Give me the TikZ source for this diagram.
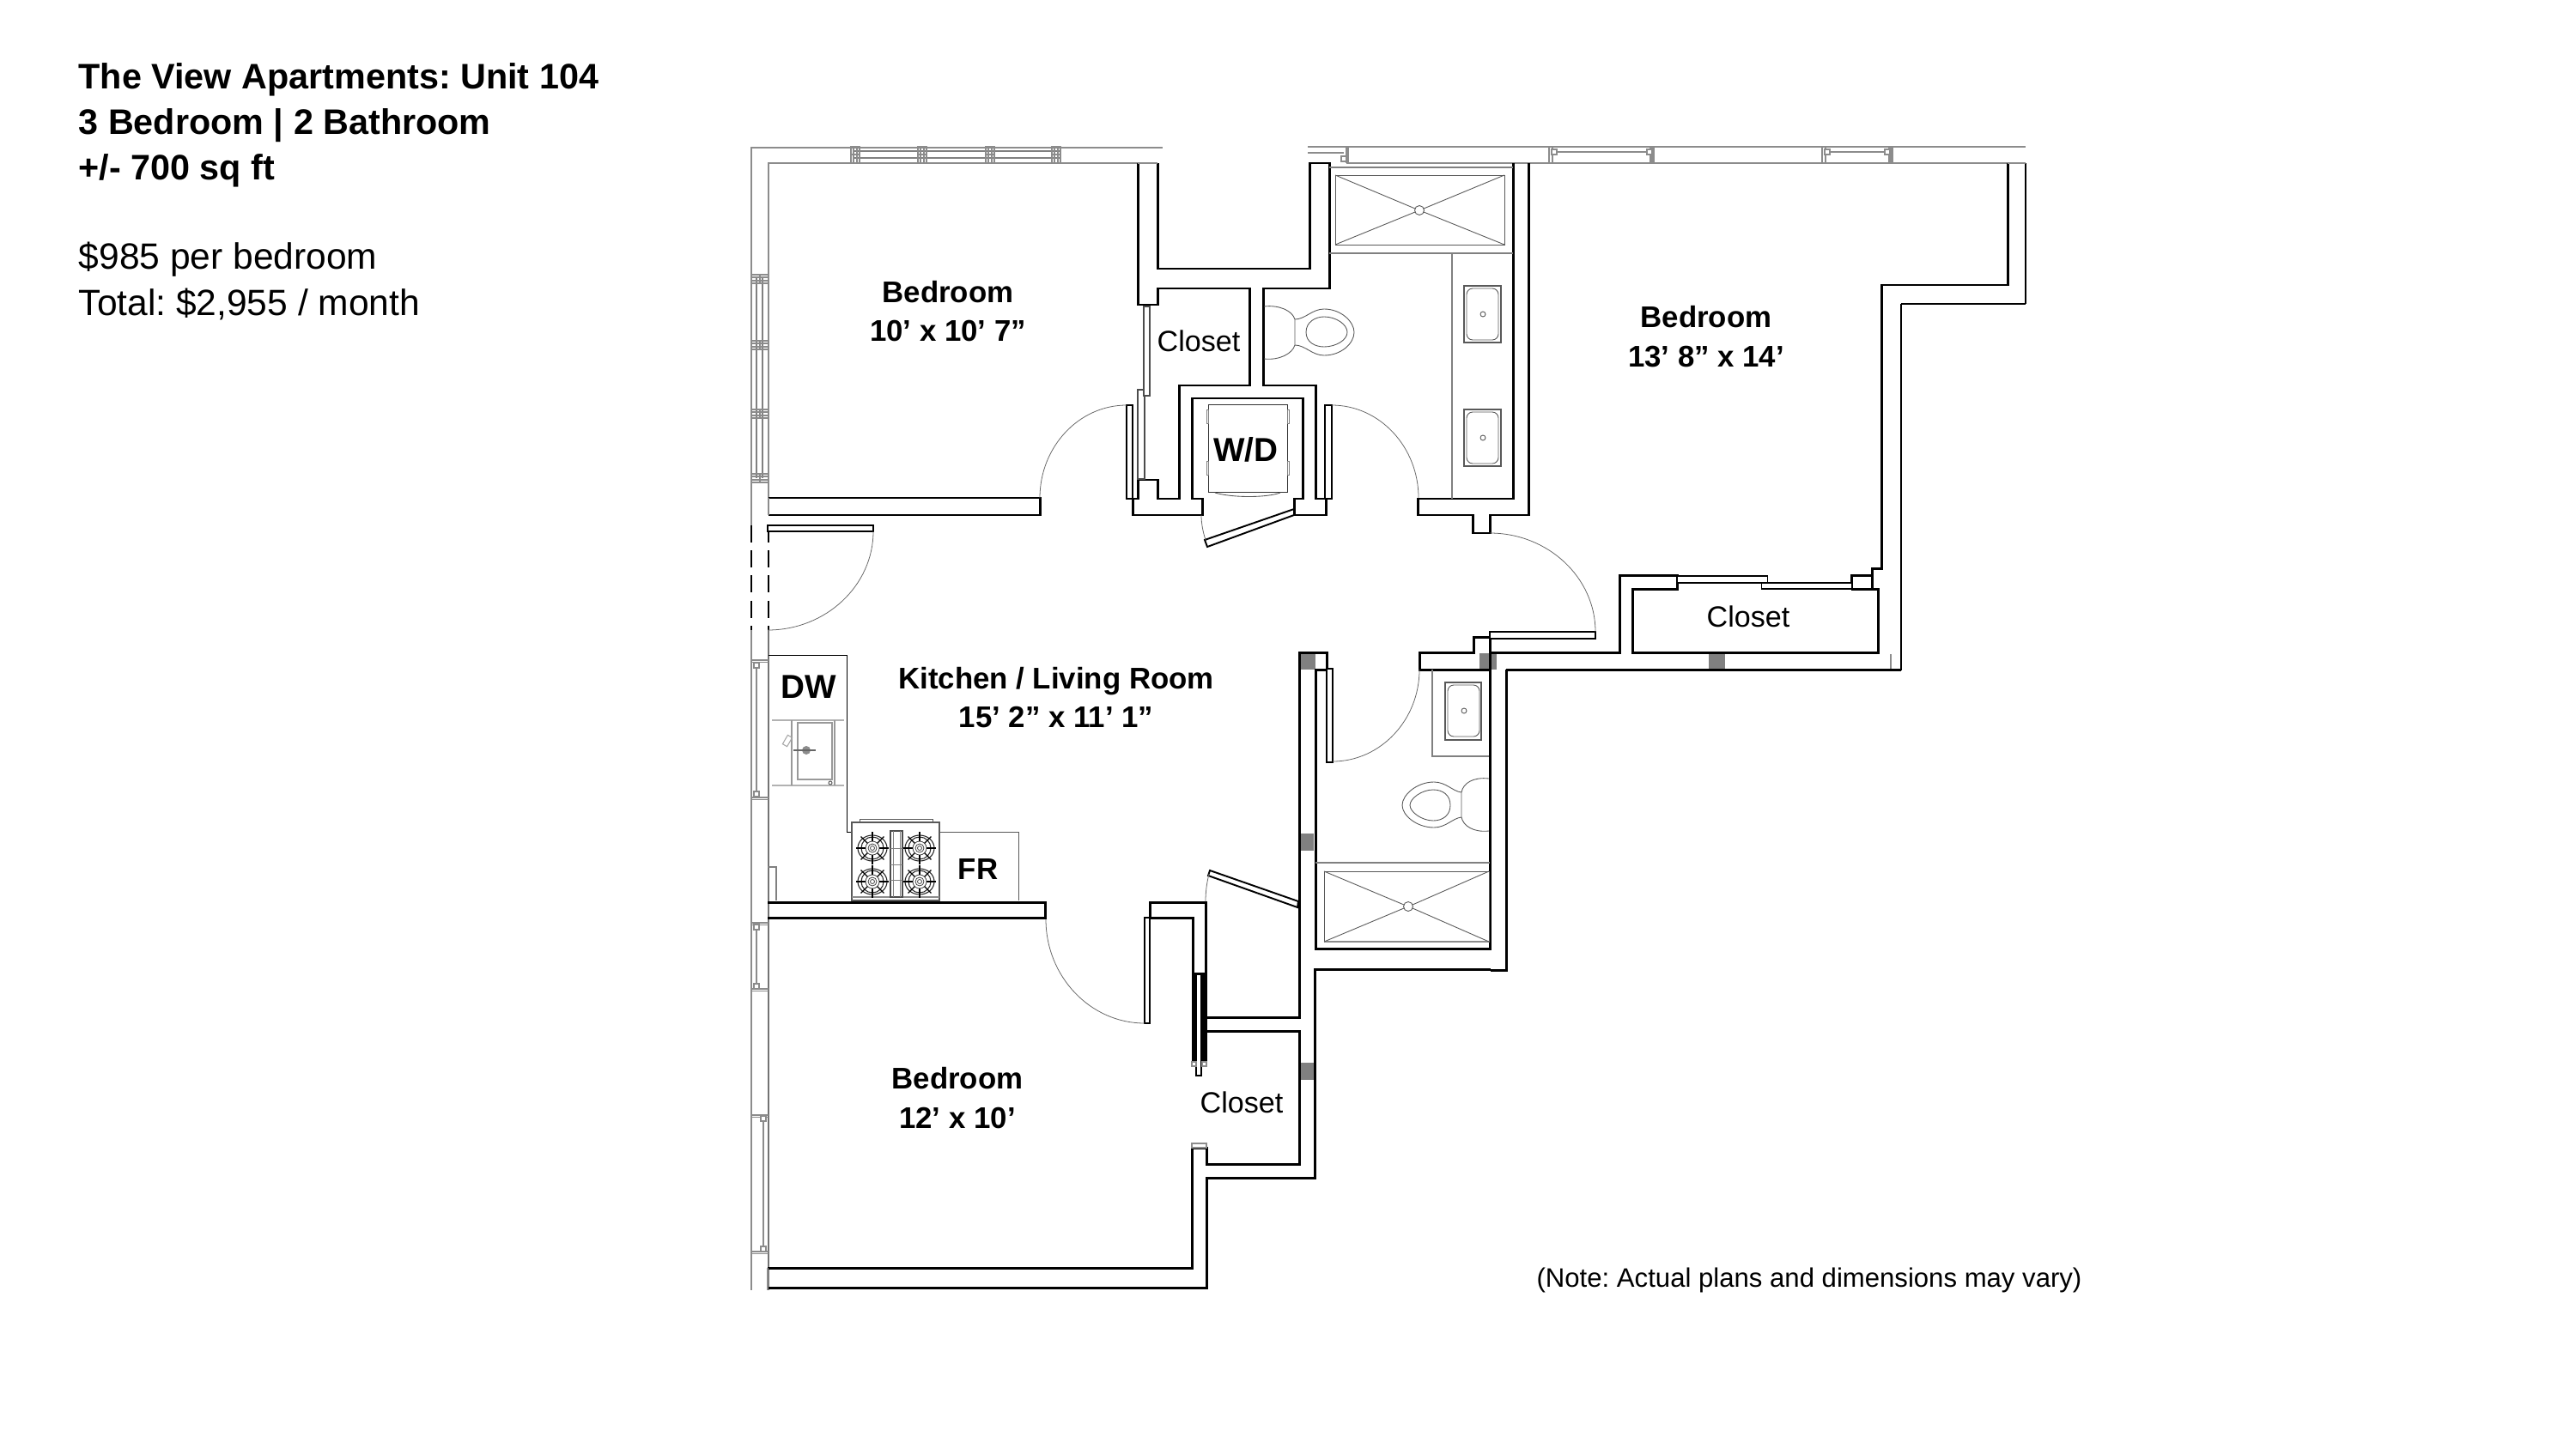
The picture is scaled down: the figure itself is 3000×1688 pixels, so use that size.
\documentclass[tikz,border=0pt]{standalone}
\usepackage{fontspec}
\setmainfont{Liberation Sans}
\usetikzlibrary{calc}
\frenchspacing
\tikzset{
  wall/.style={draw=black,line width=0.85pt,line join=miter},
  wallthin/.style={draw=black,line width=0.6pt},
  greyl/.style={draw=black!45,line width=0.45pt},
  greyt/.style={draw=black!50,line width=0.3pt},
  fixt/.style={draw=black!65,line width=0.25pt},
  leaf/.style={draw=black,line width=0.3pt,fill=white},
  leafb/.style={draw=black,line width=0.55pt,fill=white},
  swing/.style={draw=black!60,line width=0.22pt},
  stub/.style={fill=black!50,draw=none},
  head/.style={anchor=base west,inner sep=0pt,font=\fontsize{12.1}{14}\selectfont},
  headb/.style={head,font=\fontsize{11.75}{14}\selectfont\bfseries},
  room/.style={anchor=base,inner sep=0pt,font=\fontsize{9.9}{12}\selectfont\bfseries},
  appl/.style={anchor=base,inner sep=0pt,font=\fontsize{11}{12}\selectfont\bfseries},
  lab/.style={anchor=base,inner sep=0pt,font=\fontsize{9.7}{12}\selectfont},
}
\newcommand{\qarc}[6]{\draw[swing] (#1,#2) .. controls ($(#1,#2)!.55!(#5,#6)$) and ($(#3,#4)!.55!(#5,#6)$) .. (#3,#4);}
\begin{document}
\begin{tikzpicture}[x=0.01cm,y=-0.01cm]
\useasboundingbox (0,0) rectangle (3000,1688);
\fill[white] (0,0) rectangle (3000,1688);

% ---------- text block
\node[headb] (t1) at (91,104) {The View Apartments: Unit 104};
\node[headb] (t2) at (91,157) {3 Bedroom | 2 Bathroom};
\node[headb] (t3) at (91,209) {+/- 700 sq ft};
\node[head] (t4) at (91,314) {\$985 per bedroom};
\node[head] (t5) at (91,367) {Total: \$2,955 / month};

% ---------- exterior grey shell
\draw[greyl] (1354,172) -- (875,172) -- (875,612);
\draw[greyl] (895,322) -- (895,190) -- (1325,190);
\draw[greyl] (875,734) -- (875,1503);
\draw[greyt,draw=black!55] (895,734) -- (895,1503);
\draw[greyl] (1523,171) -- (2359,171);
\draw[greyl] (1568,190) -- (2338,190);
\draw[greyl] (1523,178) -- (1565,178);
% dashed entry
\draw[draw=black,line width=0.35pt,dash pattern=on 5.7pt off 2.6pt] (875,612) -- (875,734);
\draw[draw=black,line width=0.35pt,dash pattern=on 5.7pt off 2.6pt] (895,612) -- (895,734);
% top window, left
\draw[greyl,line width=0.8pt,draw=black!50] (994,176) -- (1234,176) (994,184) -- (1234,184);
\foreach \m in {996,1074,1153,1230}{
  \draw[greyl,line width=0.5pt] (\m-5,171) rectangle (\m+5,190);
  \draw[greyl] (\m-2,171) -- (\m-2,190) (\m+2,171) -- (\m+2,190) (\m-5,180) -- (\m+5,180);
}
% left window, upper
\draw[greyl,line width=0.8pt,draw=black!50] (881,322) -- (881,557) (888,322) -- (888,557);
\foreach \m in {325,402,482,557}{
  \draw[greyl,line width=0.5pt] (875,\m-5) rectangle (895,\m+5);
  \draw[greyl] (875,\m-2) -- (895,\m-2) (875,\m+2) -- (895,\m+2) (885,\m-5) -- (885,\m+5);
}
\draw[greyl] (895,322) -- (895,600);
% left windows, lower
\draw[greyl] (881,773) -- (881,926) (881,1078) -- (881,1149) (889,1303) -- (889,1455);
\foreach \m in {770,930,1076,1153,1300,1459}{
  \draw[greyl] (875,\m-1) -- (895,\m-1) (875,\m+1.5) -- (895,\m+1.5);
}
\foreach \a/\b in {881/775,881/925,881/1080,881/1149,889/1303,889/1455}{
  \draw[greyl,fill=white] (\a-3,\b-3) rectangle (\a+3,\b+3);
}
% top window, right
\foreach \a/\b in {1568/1806,1924/2124,2202/2359}{
  \draw[greyl] (\a,171) -- (\a,190) (\a+2,171) -- (\a+2,190);
}
\foreach \m in {1806,1924,2124,2202}{
  \draw[greyl] (\m-2,171) -- (\m-2,190) (\m+2,171) -- (\m+2,190);
}
\draw[greyl] (1808,177) -- (1922,177) (2126,177) -- (2200,177);
\foreach \a/\b in {1565/185,1810/177,1921/177,2128/177,2198/177}{
  \draw[greyl,fill=white] (\a-3,\b-3) rectangle (\a+3,\b+3);
}

% ---------- grey wall stubs
\fill[stub] (1514,762) rectangle (1532,780);
\fill[stub] (1514,971) rectangle (1530,991);
\fill[stub] (1514,1238) rectangle (1530,1258);
\fill[stub] (1723,761) rectangle (1743,780);
\fill[stub] (1990,762) rectangle (2009,779);

% ---------- core walls: bedroom 1 / closet / laundry
\draw[wall] (1325,190) -- (1325,355) -- (1348,355) -- (1348,336) -- (1455,336) -- (1455,449) -- (1373,449) -- (1373,581) -- (1348,581) -- (1348,559) -- (1325,559) -- (1325,581) -- (1319,581) -- (1319,600) -- (1400,600) -- (1400,581) -- (1388,581) -- (1388,464) -- (1517,464) -- (1517,581) -- (1507,581) -- (1507,600) -- (1544,600) -- (1544,581) -- (1532,581) -- (1532,449) -- (1471,449) -- (1471,336) -- (1548,336) -- (1548,190) -- (1525,190) -- (1525,313) -- (1348,313) -- (1348,190);
\draw[greyl] (1325,190) -- (1348,190);
% bedroom 1 south wall
\draw[wall] (895,580) -- (1211,580) -- (1211,600) -- (895,600);
\draw[greyl] (895,580) -- (895,600);
% bath 1 east wall
\draw[wall] (1762,190) -- (1762,581) -- (1651,581) -- (1651,600) -- (1715,600) -- (1715,621) -- (1735,621) -- (1735,600) -- (1780,600) -- (1780,190);
% bedroom 2 walls and closet
\draw[wall] (2338,190) -- (2338,332) -- (2191,332) -- (2191,662) -- (2180,662) -- (2180,686);
\draw[wall] (2156,686) -- (2156,670) -- (2180,670);
\draw[wall] (2156,686) -- (2187,686) -- (2187,760) -- (1901,760) -- (1901,686) -- (1953,686) -- (1953,670) -- (1886,670) -- (1886,760) -- (1735,760) -- (1735,742) -- (1716,742) -- (1716,760) -- (1653,760) -- (1653,780) -- (1735,780);
\draw[wall] (1735,760) -- (1735,1105) -- (1532,1105) -- (1532,780) -- (1545,780) -- (1545,760) -- (1513,760) -- (1513,1185) -- (1404,1185) -- (1404,1051) -- (1339,1051) -- (1339,1069) -- (1389,1069) -- (1389,1237);
\draw[wall] (1404,1185) -- (1404,1237);
\draw[wall] (1754,780) -- (2214,780);
\draw[wallthin] (2214,354) -- (2214,781);
\draw[wall] (2214,354) -- (2359,354);
\draw[wallthin,line width=0.35pt] (2359,190) -- (2359,354);
\draw[greyl] (2338,190) -- (2359,190);
\draw[greyl] (2202,762) -- (2202,779);
\draw[wall] (1754,780) -- (1754,1130) -- (1736,1130);
\draw[wall] (1736,1129) -- (1531,1129) -- (1531,1372) -- (1405,1372) -- (1405,1500) -- (894,1500);
\draw[wall] (1404,1201) -- (1513,1201) -- (1513,1356) -- (1405,1356) -- (1405,1337) -- (1388,1337) -- (1388,1477) -- (894,1477);
\draw[greyl] (1388,1332) rectangle (1405,1337);
\draw[greyl] (894,1477) -- (894,1503);
% kitchen south wall
\draw[wall] (894,1051) -- (1217,1051) -- (1217,1069) -- (894,1069);
% thick sliding jamb, bedroom 3 closet
\fill[black] (1388,1133) rectangle (1405,1237);
\draw[leaf,line width=0.35pt] (1393,1135) rectangle (1399,1253);
\draw[greyl,fill=white] (1388,1237) rectangle (1393,1242) (1400,1237) rectangle (1405,1242);

% ---------- door leaves and swings
\draw[leaf] (1312,472) rectangle (1319,581);
\draw[leaf] (1543,472) rectangle (1551,581);
\draw[leaf] (894,612) rectangle (1017,619);
\draw[leaf,line width=0.5pt] (1735,736) rectangle (1858,744);
\draw[leaf] (1545,779) rectangle (1552,888);
\draw[leaf] (1333,1069) rectangle (1339,1192);
\draw[leaf,draw=black!70] (1325,454) rectangle (1333,558);
\draw[leaf,draw=black!70] (1332,357) rectangle (1339,461);
\draw[leaf] (1953,671) rectangle (2058,679);
\draw[leaf] (2051,679) rectangle (2156,686);
\draw[leafb] (1507,593) -- (1507,600) -- (1406,637) -- (1403,629) -- cycle;
\draw[leafb] (1409,1014) -- (1407,1020) -- (1511,1057) -- (1512,1050) -- cycle;
\qarc{1312}{472}{1211}{580}{1211}{472}
\qarc{1551}{472}{1652}{580}{1652}{472}
\qarc{1735}{621}{1858}{736}{1858}{621}
\qarc{1017}{619}{894}{734}{1017}{734}
\qarc{1552}{887}{1653}{780}{1653}{887}
\qarc{1218}{1071}{1333}{1192}{1218}{1192}
\draw[swing] (1399,600) .. controls (1399,610) and (1401,620) .. (1404,629);
\draw[swing] (1404,1050) .. controls (1404,1040) and (1405,1030) .. (1408,1018);

% ---------- bath 1 fixtures
\draw[greyt] (1548,195) -- (1762,195);
\draw[greyt] (1548,295) -- (1762,295);
\draw[greyt] (1691,295) -- (1691,581);
\draw[fixt] (1555,204) rectangle (1752,285);
\draw[fixt] (1555,204) -- (1648,243) (1752,204) -- (1658,243) (1555,285) -- (1648,247) (1752,285) -- (1658,247);
\draw[fixt] (1653,245) circle [radius=5.5];
\foreach \y in {333,477}{
  \draw[fixt,line width=0.35pt] (1705,\y) rectangle (1748,\y+66);
  \draw[fixt,rounded corners=2pt] (1708,\y+3) rectangle (1745,\y+63);
  \draw[fixt] (1727,\y+33) circle [radius=3];
}
% toilet 1
\draw[fixt] (1472,357) .. controls (1490,355) and (1505,362) .. (1508,372) -- (1508,402) .. controls (1505,412) and (1490,420) .. (1472,418);
\draw[fixt] (1508,372) .. controls (1520,372) and (1528,360) .. (1542,360) .. controls (1562,360) and (1577,375) .. (1577,387) .. controls (1577,400) and (1562,414) .. (1542,414) .. controls (1528,414) and (1520,402) .. (1508,402);
\draw[fixt] (1521,387) .. controls (1521,375) and (1532,369) .. (1542,369) .. controls (1556,369) and (1569,378) .. (1569,387) .. controls (1569,396) and (1556,404) .. (1542,404) .. controls (1532,404) and (1521,399) .. (1521,387);

% ---------- bath 2 fixtures
\draw[greyt] (1668,780) -- (1668,881) -- (1734,881);
\draw[fixt,line width=0.35pt] (1683,795) rectangle (1725,862);
\draw[fixt,rounded corners=2pt] (1686,798) rectangle (1723,858);
\draw[fixt] (1705,828) circle [radius=3];
\draw[fixt] (1734,907) .. controls (1716,905) and (1704,912) .. (1702,923) -- (1702,952) .. controls (1704,962) and (1716,970) .. (1734,968);
\draw[fixt] (1702,923) .. controls (1692,922) and (1684,911) .. (1670,911) .. controls (1650,911) and (1633,926) .. (1633,938) .. controls (1633,950) and (1650,964) .. (1670,964) .. controls (1684,964) and (1692,953) .. (1702,952);
\draw[fixt] (1689,938) .. controls (1689,926) and (1680,920) .. (1669,920) .. controls (1656,920) and (1642,930) .. (1642,938) .. controls (1642,946) and (1656,956) .. (1669,956) .. controls (1680,956) and (1689,950) .. (1689,938);
\draw[greyt] (1532,1005) -- (1735,1005);
\draw[fixt] (1542,1015) rectangle (1734,1097);
\draw[greyl] (1542,1097) -- (1734,1097);
\draw[fixt] (1542,1015) -- (1635,1054) (1734,1015) -- (1645,1054) (1542,1097) -- (1635,1058) (1734,1097) -- (1645,1058);
\draw[fixt] (1640,1056) circle [radius=5.5];

% ---------- laundry
\draw[fixt,draw=black!80] (1407,471) rectangle (1499,573);
\foreach \x/\y in {1405/485,1405/545,1499/485,1499/545}{\draw[greyt,line width=0.2pt] (\x,\y-8) rectangle (\x+2,\y+8);}
\draw[fixt] (1415,574) .. controls (1435,580) and (1475,580) .. (1491,574);

% ---------- kitchen
\draw[draw=black,line width=0.2pt] (895,763) -- (986,763) -- (986,969) -- (992,969);
\draw[fixt] (1094,969) -- (1186,969) -- (1186,1049);
\draw[greyt] (894,1010) -- (904,1010) -- (904,1049);
\draw[fixt,line width=0.3pt] (992,958) rectangle (1094,1049);
\draw[fixt] (1001,958) -- (1001,954) -- (1086,954) -- (1086,958);
\draw[greyl] (992,1045) -- (1094,1045);
\draw[greyl,draw=black!30] (899,839) -- (983,839) (899,915) -- (983,915);
\draw[greyt,draw=black!40] (922,839) -- (922,915) (972,839) -- (972,915);
\draw[greyl,draw=black!40] (929,842) rectangle (969,908);
\fill[black!45] (939,874) circle [radius=5];
\draw[black!60,line width=0.55pt] (924,874) -- (950,874);
\draw[greyt,draw=black!35,rotate around={-30:(917,863)}] (914,857) rectangle (920,869);
\draw[black!60,line width=0.3pt] (967,912) circle [radius=2];
\draw[black!70,line width=0.3pt] (1037,968) rectangle (1051,1045);
\draw[black!50,line width=0.2pt] (1040,968) -- (1040,1045) (1048,968) -- (1048,1045) (1037,988) -- (1051,988) (1037,1007) -- (1051,1007) (1037,1025) -- (1051,1025);
\foreach \cx/\cy in {1016/988,1071/988,1016/1027,1071/1027}{
  \draw[black!75,line width=0.22pt] (\cx,\cy) circle [radius=2.5] (\cx,\cy) circle [radius=5] (\cx,\cy) circle [radius=8];
  \draw[black!85,line width=0.3pt] (\cx,\cy) circle [radius=13];
  \draw[black!85,line width=0.3pt] (\cx,\cy) ellipse [x radius=17,y radius=15];
  \foreach \a in {0,45,...,315}{
    \draw[black,line width=0.35pt] ($(\cx,\cy)+(\a:8)$) -- ($(\cx,\cy)+(\a:19)$);
  }
}

% ---------- labels
\node[room] (b1a) at (1104,352) {Bedroom};
\node[room] (b1b) at (1104,397) {10’ x 10’ 7”};
\node[room] (b2a) at (1987,381) {Bedroom};
\node[room] (b2b) at (1987,427) {13’ 8” x 14’};
\node[room] (b3a) at (1115,1268) {Bedroom};
\node[room] (b3b) at (1115,1314) {12’ x 10’};
\node[room] (kl) at (1230,802) {Kitchen / Living Room};
\node[room] (kd) at (1230,847) {15’ 2” x 11’ 1”};
\node[appl] (wd) at (1451,537) {W/D};
\node[appl] (dw) at (942,813) {DW};
\node[room] (fr) at (1139,1024) {FR};
\node[lab] (c1) at (1396,409) {Closet};
\node[lab] (c2) at (2036,730) {Closet};
\node[lab] (c3) at (1446,1296) {Closet};
\node[anchor=base,inner sep=0pt,font=\fontsize{8.85}{10}\selectfont] (note) at (2107,1499) {(Note: Actual plans and dimensions may vary)};
\end{tikzpicture}
\end{document}
